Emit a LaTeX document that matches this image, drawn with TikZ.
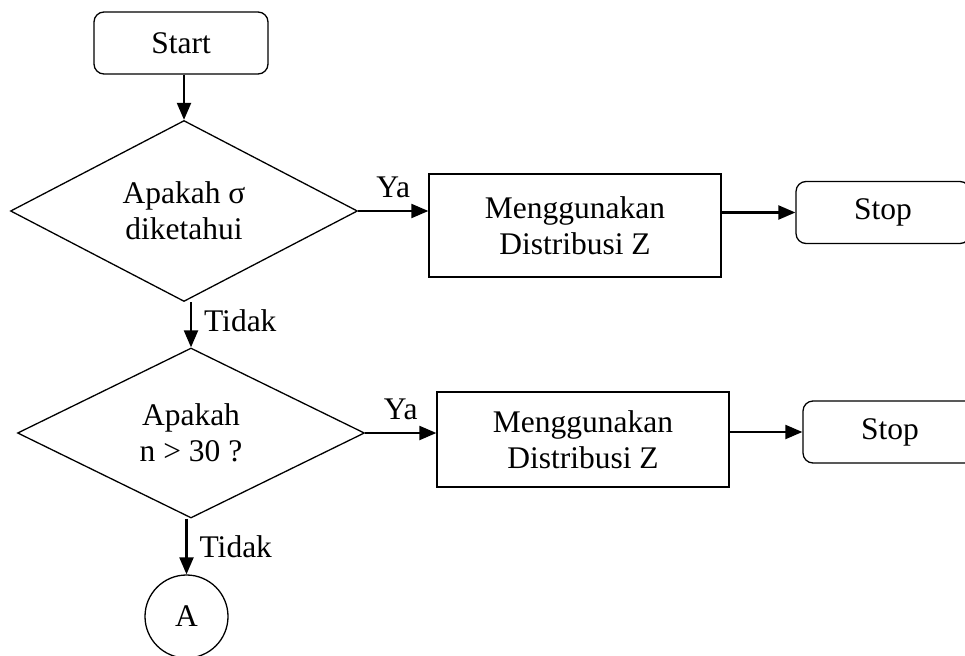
\documentclass[tikz,border=0pt]{standalone}
\usepackage{fontspec}
\setmainfont{Liberation Serif}
\usetikzlibrary{shapes.geometric,arrows.meta}
\begin{document}
\begin{tikzpicture}[x=1pt,y=-1pt,font=\fontsize{31.5}{36}\selectfont]
    \tikzstyle{terminal}=[draw,line width=1.3pt,rounded corners=10pt,minimum width=174pt,minimum height=62pt,inner sep=0pt]
    \tikzstyle{process}=[draw,line width=1.3pt,minimum width=292pt,align=center,inner sep=0pt]
    \tikzstyle{decision}=[draw,diamond,line width=1.3pt,minimum width=347pt,minimum height=170pt,align=center,inner sep=0pt]
    \tikzstyle{offpage}=[draw,circle,line width=1.3pt,minimum size=83pt,inner sep=0pt]
    \tikzstyle{flow}=[-{Triangle[length=17pt,width=14pt]},line width=2.2pt]
    \tikzstyle{answer}=[inner sep=12pt]
    \path[use as bounding box,clip] (0,0) rectangle (965,655);

    \node[terminal] (start) at (181,43) {Start};
    \node[decision] (dec1) at (184,211) {Apakah σ\\diketahui};
    \node[process,minimum height=103pt] (box1) at (575,225.5) {Menggunakan\\Distribusi Z};
    \node[terminal] (stop1) at (883,212.5) {Stop};
    \node[decision] (dec2) at (191,433) {Apakah\\n > 30 ?};
    \node[process,minimum height=95pt] (box2) at (583,439.5) {Menggunakan\\Distribusi Z};
    \node[terminal] (stop2) at (890,432) {Stop};
    \node[offpage] (circA) at (186.5,616.5) {A};

    \draw[flow] (start.south -| dec1.north) -- (dec1.north);
    \draw[flow] (dec1.east) -- node[answer,above] {Ya} (dec1.east -| box1.west);
    \draw[flow] (box1.east |- stop1.west) -- (stop1.west);
    \draw[flow] (dec1.south -| dec2.north) -- node[answer,right,yshift=4pt] {Tidak} (dec2.north);
    \draw[flow] (dec2.east) -- node[answer,above] {Ya} (dec2.east -| box2.west);
    \draw[flow] (box2.east |- stop2.west) -- (stop2.west);
    \draw[flow] (dec2.south -| circA.north) -- node[answer,right] {Tidak} (circA.north);
\end{tikzpicture}
\end{document}
